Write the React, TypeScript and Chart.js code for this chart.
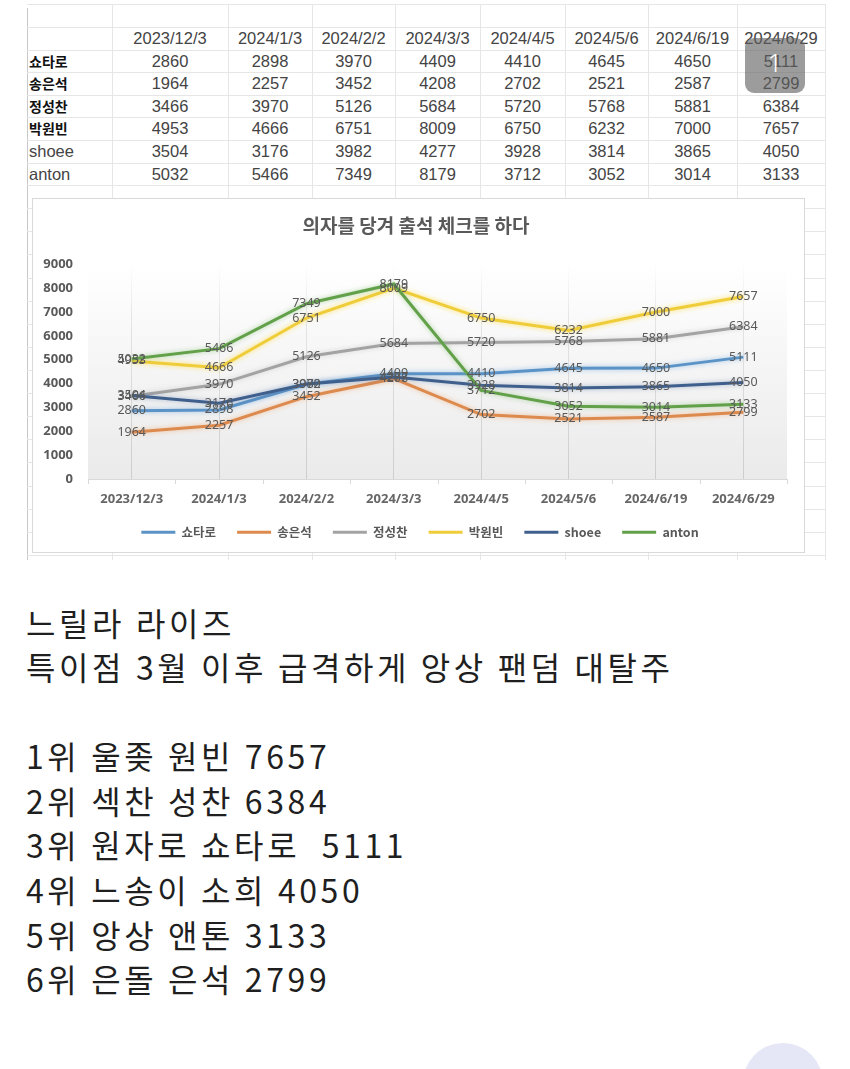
import React, { useEffect, useRef } from 'react';
import { Chart, registerables } from 'chart.js';

Chart.register(...registerables);

const categories = ['2023/12/3', '2024/1/3', '2024/2/2', '2024/3/3', '2024/4/5', '2024/5/6', '2024/6/19', '2024/6/29'];
const seriesNames = ['쇼타로', '송은석', '정성찬', '박원빈', 'shoee', 'anton'];
const shotaro = [2860, 2898, 3970, 4409, 4410, 4645, 4650, 5111];
const eunseok = [1964, 2257, 3452, 4208, 2702, 2521, 2587, 2799];
const sungchan = [3466, 3970, 5126, 5684, 5720, 5768, 5881, 6384];
const wonbin = [4953, 4666, 6751, 8009, 6750, 6232, 7000, 7657];
const shoee = [3504, 3176, 3982, 4277, 3928, 3814, 3865, 4050];
const anton = [5032, 5466, 7349, 8179, 3712, 3052, 3014, 3133];
const seriesValues = [shotaro, eunseok, sungchan, wonbin, shoee, anton];
const boldLabels = [true, true, true, true, false, false];

const chartTitle = '의자를 당겨 출석 체크를 하다';
const yMin = 0;
const yMax = 9000;
const yStep = 1000;

const textLines = [
  '느릴라 라이즈',
  '특이점 3월 이후 급격하게 앙상 팬덤 대탈주',
  '',
  '1위 울좆 원빈 7657',
  '2위 섹찬 성찬 6384',
  '3위 원자로 쇼타로  5111',
  '4위 느송이 소희 4050',
  '5위 앙상 앤톤 3133',
  '6위 은돌 은석 2799',
];

const lineColors = ['#5b93c6', '#dd8a4e', '#a3a3a3', '#efcc3a', '#3f5f8c', '#62a04a'];
const glowColors = [
  'rgba(120,175,225,0.7)',
  'rgba(240,160,100,0.6)',
  'rgba(190,190,190,0.6)',
  'rgba(255,225,90,0.95)',
  'rgba(90,120,170,0.5)',
  'rgba(130,190,110,0.6)',
];

const KR = '"Noto Sans CJK KR", "Noto Sans", sans-serif';
const SANS = '"Noto Sans", "Noto Sans CJK KR", sans-serif';

const colEdges = [27, 112, 228, 312, 395, 480, 565, 648, 737, 825];
const rowEdges = [4.4, 27, 49.6, 72.2, 94.8, 117.4, 140, 162.6, 185.2];

const bgPlugin = {
  id: 'plotBg',
  beforeDraw(chart: any) {
    const a = chart.chartArea;
    if (!a) return;
    const ctx = chart.ctx;
    const g = ctx.createLinearGradient(0, a.top, 0, a.bottom);
    g.addColorStop(0, '#ffffff');
    g.addColorStop(1, '#eaeaea');
    ctx.save();
    ctx.fillStyle = g;
    ctx.fillRect(a.left, a.top, a.right - a.left, a.bottom - a.top);
    ctx.restore();
  },
};

const shiftPlugin = {
  id: 'centerShift',
  afterLayout(chart: any) {
    if (chart.legend) {
      chart.legend.left += 10;
      chart.legend.right += 10;
    }
    if (chart.titleBlock) {
      chart.titleBlock.left += 6;
      chart.titleBlock.right += 6;
    }
  },
};

const glowPlugin = {
  id: 'glow',
  beforeDatasetDraw(chart: any, args: any) {
    const ctx = chart.ctx;
    ctx.save();
    ctx.shadowColor = glowColors[args.index];
    ctx.shadowBlur = 5;
  },
  afterDatasetDraw(chart: any) {
    chart.ctx.restore();
  },
};

const labelPlugin = {
  id: 'valueLabels',
  afterDatasetsDraw(chart: any) {
    const ctx = chart.ctx;
    ctx.save();
    ctx.font = `12.5px ${SANS}`;
    ctx.fillStyle = '#595959';
    ctx.textAlign = 'center';
    ctx.textBaseline = 'middle';
    chart.data.datasets.forEach((ds: any, i: number) => {
      const meta = chart.getDatasetMeta(i);
      meta.data.forEach((pt: any, j: number) => {
        ctx.fillText(String(ds.data[j]), pt.x, pt.y);
      });
    });
    ctx.restore();
  },
};

const tickPlugin = {
  id: 'boundaryTicks',
  afterDraw(chart: any) {
    const xs = chart.scales.x;
    const ctx = chart.ctx;
    ctx.save();
    ctx.strokeStyle = '#d9d9d9';
    ctx.lineWidth = 1;
    ctx.beginPath();
    for (let i = 0; i <= categories.length; i++) {
      const x = Math.round(xs.getPixelForValue(i - 0.5)) + 0.5;
      ctx.moveTo(x, xs.top);
      ctx.lineTo(x, xs.top + 5);
    }
    ctx.stroke();
    ctx.restore();
  },
};

function ChartBox() {
  const ref = useRef<HTMLCanvasElement>(null);
  useEffect(() => {
    const canvas = ref.current;
    if (!canvas) return;
    const chart = new Chart(canvas, {
      type: 'line',
      data: {
        labels: categories,
        datasets: seriesNames.map((name, i) => ({
          label: name,
          data: seriesValues[i],
          borderColor: lineColors[i],
          backgroundColor: lineColors[i],
          borderWidth: 3,
          pointRadius: 0,
          pointHoverRadius: 0,
          tension: 0,
          fill: false,
          order: seriesNames.length - i,
        })),
      },
      options: {
        responsive: false,
        animation: false,
        layout: { padding: { left: 0, right: 17, top: 0, bottom: 3.5 } },
        plugins: {
          title: {
            display: true,
            text: chartTitle,
            color: '#595959',
            font: { family: KR, size: 19, weight: 'bold' },
            padding: { top: 15.6, bottom: 27 },
          },
          legend: {
            position: 'bottom',
            labels: {
              usePointStyle: true,
              pointStyle: 'line',
              pointStyleWidth: 34,
              color: '#595959',
              font: { family: KR, size: 12.5, weight: 'bold' },
              padding: 21,
              sort: (a: any, b: any) => a.datasetIndex - b.datasetIndex,
            },
          },
          tooltip: { enabled: false },
        },
        scales: {
          x: {
            offset: true,
            grid: {
              display: true,
              offset: false,
              drawTicks: false,
              color: (c: any) => {
                const a = c.chart.chartArea;
                if (!a) return '#d9d9d9';
                const g = c.chart.ctx.createLinearGradient(0, a.top, 0, a.bottom);
                g.addColorStop(0, 'rgba(215,215,215,0)');
                g.addColorStop(0.25, 'rgba(215,215,215,0.6)');
                g.addColorStop(1, 'rgba(205,205,205,1)');
                return g;
              },
            },
            border: { display: true, color: '#d9d9d9' },
            ticks: {
              color: '#666666',
              font: { family: SANS, size: 13, weight: 'bold' },
              padding: 12.5,
              maxRotation: 0,
              autoSkip: false,
            },
            afterFit(scale: any) {
              scale.height = 26;
            },
          },
          y: {
            min: yMin,
            max: yMax,
            grid: { display: false, drawTicks: false },
            border: { display: false },
            ticks: {
              stepSize: yStep,
              color: '#595959',
              font: { family: SANS, size: 13, weight: 'bold' },
              padding: 15,
              callback: (v: any) => String(v),
            },
            afterFit(scale: any) {
              scale.width = 55;
            },
          },
        },
      },
      plugins: [bgPlugin, shiftPlugin, glowPlugin, labelPlugin, tickPlugin],
    } as any);
    return () => chart.destroy();
  }, []);
  return <canvas ref={ref} width={771} height={353} style={{ display: 'block', width: 771, height: 353 }} />;
}

function Sheet() {
  const lines: React.ReactNode[] = [];
  colEdges.forEach((x, i) => {
    lines.push(
      <div key={'v' + i} style={{ position: 'absolute', left: x, top: i === 0 ? 8 : 4, width: 1, height: i === 0 ? 552 : 556, background: i === 0 ? '#c9c9c9' : '#e6e6e6' }} />
    );
  });
  const hEdges: number[] = [...rowEdges];
  let y = rowEdges[rowEdges.length - 1];
  while (y + 23.1 < 560) {
    y += 23.1;
    hEdges.push(y);
  }
  hEdges.forEach((yy, i) => {
    lines.push(
      <div key={'h' + i} style={{ position: 'absolute', left: 27, top: Math.round(yy), width: 798, height: 1, background: '#e6e6e6' }} />
    );
  });
  const cells: React.ReactNode[] = [];
  categories.forEach((c, j) => {
    const l = colEdges[j + 1];
    const w = colEdges[j + 2] - l;
    cells.push(
      <div key={'hd' + j} style={{ position: 'absolute', left: l - 10, width: w + 20, top: rowEdges[1], height: rowEdges[2] - rowEdges[1], lineHeight: rowEdges[2] - rowEdges[1] + 'px', textAlign: 'center', fontFamily: '"Liberation Sans", Arial, sans-serif', fontSize: 16.5, color: '#444' }}>{c}</div>
    );
  });
  seriesNames.forEach((name, r) => {
    const top = rowEdges[r + 2];
    const h = rowEdges[r + 3] - top;
    cells.push(
      <div key={'rn' + r} style={{ position: 'absolute', left: 29, top, height: h, lineHeight: h + 'px', fontFamily: boldLabels[r] ? KR : '"Liberation Sans", Arial, sans-serif', fontWeight: boldLabels[r] ? 'bold' : 'normal', fontSize: boldLabels[r] ? 14 : 16.5, color: boldLabels[r] ? '#111' : '#444' }}>{name}</div>
    );
    seriesValues[r].forEach((v, j) => {
      const l = colEdges[j + 1];
      const w = colEdges[j + 2] - l;
      cells.push(
        <div key={'c' + r + '_' + j} style={{ position: 'absolute', left: l, width: w, top, height: h, lineHeight: h + 'px', textAlign: 'center', fontFamily: '"Liberation Sans", Arial, sans-serif', fontSize: 16.5, color: '#444' }}>{v}</div>
      );
    });
  });
  return (
    <>
      {lines}
      {cells}
      <div style={{ position: 'absolute', left: 745, top: 38, width: 60, height: 55, borderRadius: 9, background: 'rgba(95,95,95,0.62)' }} />
      <div style={{ position: 'absolute', left: 745, top: 42, width: 60, height: 40, lineHeight: '40px', textAlign: 'center', color: '#fff', fontFamily: SANS, fontSize: 26, fontWeight: 300 }}>1</div>
    </>
  );
}

export default function App() {
  return (
    <div style={{ position: 'absolute', left: 0, top: 0, width: 850, height: 1069, background: '#fff', overflow: 'hidden' }}>
      <Sheet />
      <div style={{ position: 'absolute', left: 32, top: 198, width: 773, height: 355, boxSizing: 'border-box', border: '1px solid #d9d9d9', background: '#fff' }}>
        <ChartBox />
      </div>
      <div style={{ position: 'absolute', left: 26, top: 599.5, fontFamily: KR, fontSize: 32, letterSpacing: 3.6, lineHeight: '44.6px', color: '#1f1f1f', whiteSpace: 'pre' }}>
        {textLines.map((t, i) => (
          <div key={i} style={{ height: 44.6 }}>{t}</div>
        ))}
      </div>
      <div style={{ position: 'absolute', left: 743, top: 1043, width: 80, height: 80, borderRadius: '50%', background: '#e5e7f6' }} />
    </div>
  );
}
